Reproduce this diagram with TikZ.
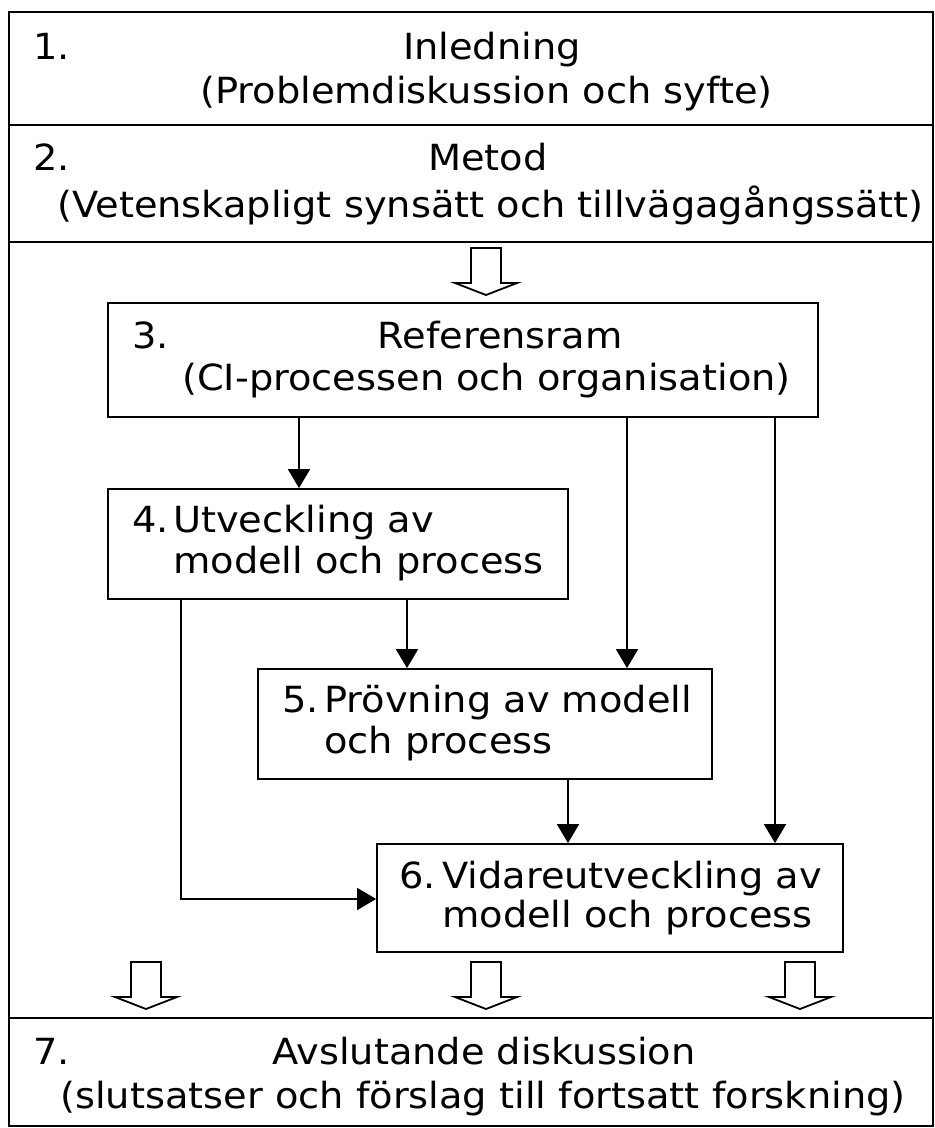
\documentclass[tikz,border=0pt]{standalone}
\usepackage{fontspec}
\setmainfont{DejaVu Sans}[FakeStretch=1.065]
\usetikzlibrary{arrows.meta,calc}
\begin{document}
\begin{tikzpicture}[x=1pt,y=-1pt,
  txt/.style={anchor=base west,inner sep=0pt,font=\fontsize{36}{43}\selectfont},
  ctxt/.style={anchor=base,inner sep=0pt,font=\fontsize{36}{43}\selectfont},
  box/.style={draw,line width=1.8pt,inner sep=0pt},
  frameline/.style={line width=2.6pt},
  arr/.style={line width=1.8pt,-{Triangle[width=22pt,length=19pt]}},
  openarrow/.pic={\draw[line width=1.8pt,line join=miter]
     (-15,-47) -- (-15,-12) -- (-31,-12) -- (0,0) -- (31,-12) -- (15,-12) -- (15,-47) -- cycle;}]
\useasboundingbox (0,0) rectangle (935,1128);
\fill[white] (0,0) rectangle (935,1128);

% outer frame and section separators
\draw[frameline] (9,12) rectangle (933,1126);
\draw[frameline] (9,125) -- (933,125);
\draw[frameline] (9,242) -- (933,242);
\draw[frameline] (9,1018) -- (933,1018);

% section 1
\node[txt]  (n1)  at (33,59)   {1.};
\node[ctxt] (t1a) at (492,59)  {Inledning};
\node[txt]  (t1b) at (200,103) {(Problemdiskussion och syfte)};

% section 2
\node[txt]  (n2)  at (33,170)  {2.};
\node[ctxt] (t2a) at (488,170) {Metod};
\node[txt]  (t2b) at (57,217)  {(Vetenskapligt synsätt och tillvägagångssätt)};

% inner boxes
\node[box,minimum width=710,minimum height=114] (b3) at (463,360) {};
\node[box,minimum width=460,minimum height=110] (b4) at (338,544) {};
\node[box,minimum width=454,minimum height=110] (b5) at (485,724) {};
\node[box,minimum width=466,minimum height=108] (b6) at (610,898) {};

\node[txt]  (n3)  at (132,348) {3.};
\node[ctxt] (t3a) at (500,348) {Referensram};
\node[txt]  (t3b) at (182,390) {(CI-processen och organisation)};

\node[txt] (n4)  at (132,532) {4.};
\node[txt] (t4a) at (173,532) {Utveckling av};
\node[txt] (t4b) at (173,573) {modell och process};

\node[txt] (n5)  at (282,712) {5.};
\node[txt] (t5a) at (324,712) {Prövning av modell};
\node[txt] (t5b) at (324,753) {och process};

\node[txt] (n6)  at (399,888) {6.};
\node[txt] (t6a) at (442,888) {Vidareutveckling av};
\node[txt] (t6b) at (442,927) {modell och process};

% section 7
\node[txt]  (n7)  at (33,1064)  {7.};
\node[ctxt] (t7a) at (484,1064) {Avslutande diskussion};
\node[txt]  (t7b) at (60,1108)  {(slutsatser och förslag till fortsatt forskning)};

% column positions of the connectors
\coordinate (cA) at (299,0);
\coordinate (cB) at (407,0);
\coordinate (cC) at (568,0);
\coordinate (cD) at (627,0);
\coordinate (cE) at (775,0);
\coordinate (cL) at (181,0);

\draw[arr] (b3.south -| cA) -- (b4.north -| cA);
\draw[arr] (b3.south -| cD) -- (b5.north -| cD);
\draw[arr] (b3.south -| cE) -- (b6.north -| cE);
\draw[arr] (b4.south -| cB) -- (b5.north -| cB);
\draw[arr] (b5.south -| cC) -- (b6.north -| cC);
\draw[arr] (b4.south -| cL) |- (b6.west |- 0,899);

% hollow block arrows
\pic at (486,295) {openarrow};
\pic at (146,1009) {openarrow};
\pic at (486,1009) {openarrow};
\pic at (800,1009) {openarrow};
\end{tikzpicture}
\end{document}
